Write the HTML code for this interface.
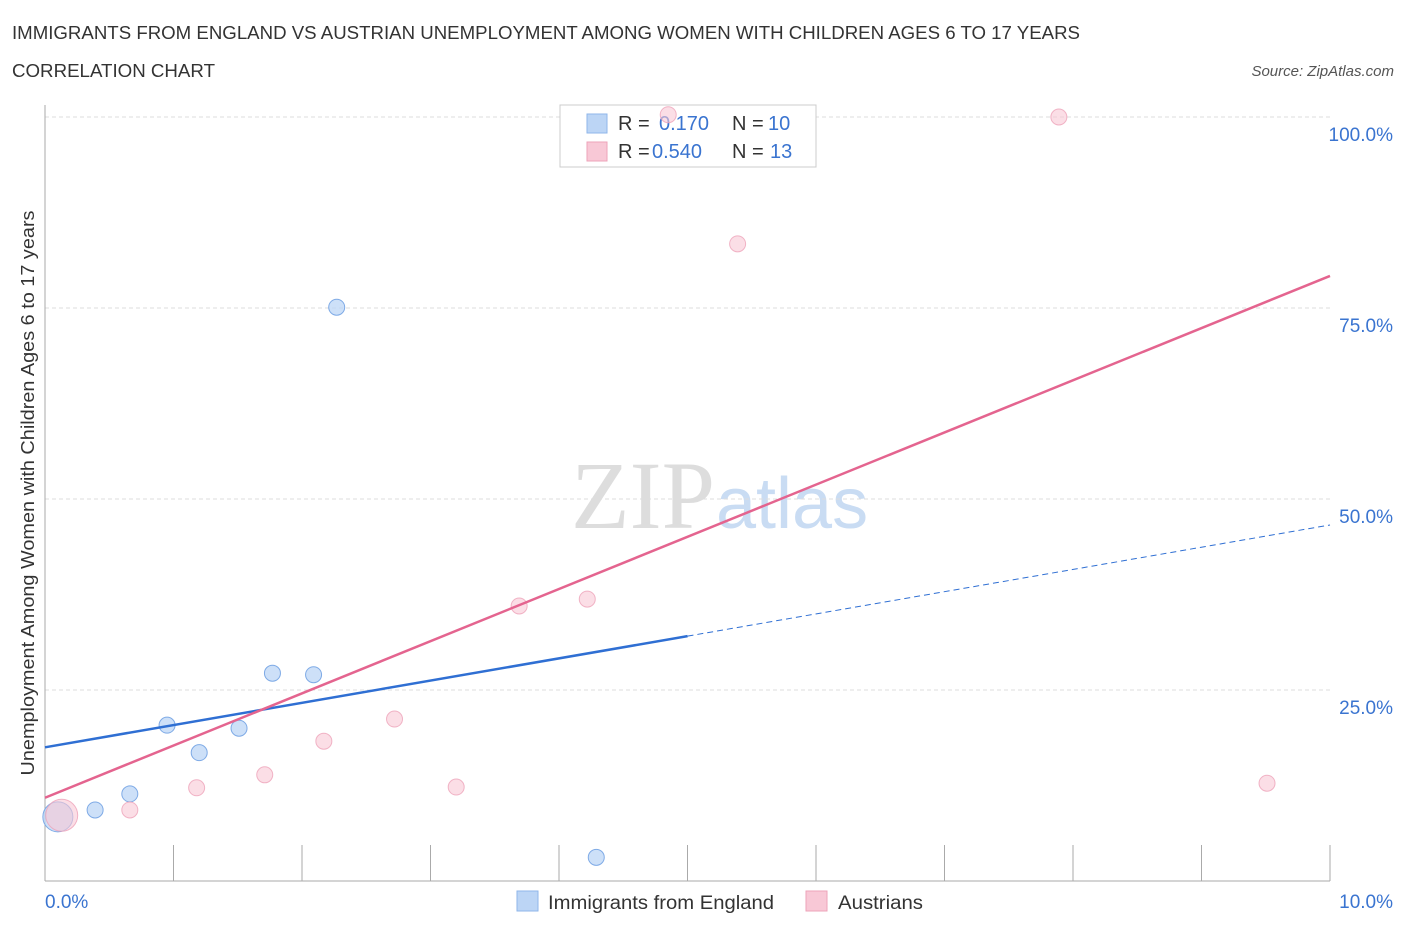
<!DOCTYPE html>
<html><head><meta charset="utf-8"><style>
body{margin:0;background:#fff;font-family:"Liberation Sans",sans-serif;}
svg text{font-family:"Liberation Sans",sans-serif;}
</style></head><body>
<svg id="c" width="1406" height="930">
<text x="12" y="39" font-size="18" fill="#333" textLength="1068" lengthAdjust="spacingAndGlyphs">IMMIGRANTS FROM ENGLAND VS AUSTRIAN UNEMPLOYMENT AMONG WOMEN WITH CHILDREN AGES 6 TO 17 YEARS</text>
<text x="12" y="77" font-size="18" fill="#333" textLength="203" lengthAdjust="spacingAndGlyphs">CORRELATION CHART</text>
<text x="1394" y="76" font-size="15" fill="#555" font-style="italic" text-anchor="end">Source: ZipAtlas.com</text>
<text x="715" y="528" font-size="96" fill="#ddd" text-anchor="end" style="font-family:'Liberation Serif',serif">ZIP</text>
<text x="716" y="528" font-size="72" fill="#c9dcf3">atlas</text>
<text transform="translate(34,493) rotate(-90)" font-size="18" fill="#333" text-anchor="middle" textLength="565" lengthAdjust="spacingAndGlyphs">Unemployment Among Women with Children Ages 6 to 17 years</text>
<g id="grid"></g>
<g>
<rect x="560" y="105" width="256" height="62" fill="#fff" stroke="#ccc"/>
<rect x="587" y="114" width="20" height="19" fill="#bcd5f5" stroke="#8fb6ea"/>
<text x="618" y="130" font-size="20" fill="#333">R = </text><text x="659" y="130" font-size="20" fill="#3a74d0">0.170</text>
<text x="732" y="130" font-size="20" fill="#333">N = </text><text x="768" y="130" font-size="20" fill="#3a74d0">10</text>
<rect x="587" y="142" width="20" height="19" fill="#f8c8d6" stroke="#eea3b9"/>
<text x="618" y="158" font-size="20" fill="#333">R = </text><text x="652" y="158" font-size="20" fill="#3a74d0">0.540</text>
<text x="732" y="158" font-size="20" fill="#333">N = </text><text x="770" y="158" font-size="20" fill="#3a74d0">13</text>
</g>
<g id="marks"></g>
<g>
<rect x="517" y="891" width="21" height="20" fill="#bcd5f5" stroke="#8fb6ea"/>
<text x="548" y="909" font-size="19" fill="#333" textLength="226" lengthAdjust="spacingAndGlyphs">Immigrants from England</text>
<rect x="806" y="891" width="21" height="20" fill="#f8c8d6" stroke="#eea3b9"/>
<text x="838" y="909" font-size="19" fill="#333" textLength="85" lengthAdjust="spacingAndGlyphs">Austrians</text>
</g>
</svg>
<script>
const blueX=[0.10,0.39,0.66,0.95,1.20,1.51,1.77,2.09,2.27,4.29];
const blueY=[8.4,9.3,11.4,20.4,16.8,20.0,27.2,27.0,75.1,3.1];
const blueR=[15,8,8,8,8,8,8,8,8,8];
const pinkX=[0.13,0.66,1.18,1.71,2.17,2.72,3.20,3.69,4.22,5.39,7.89,9.51,4.85];
const pinkY=[8.6,9.3,12.2,13.9,18.3,21.2,12.3,36.0,36.9,83.4,100,12.8,100.3];
const pinkR=[16,8,8,8,8,8,8,8,8,8,8,8,8];
const blueLine=[17.5,46.6]; const blueSolidEnd=5.0;
const pinkLine=[10.9,79.2];
const yTicks=[25,50,75,100];
const yTickLabels=["25.0%","50.0%","75.0%","100.0%"];
const xTickLabels=["0.0%","10.0%"];
const X=v=>45+v*128.5, Y=v=>881-v*7.64;
const NS="http://www.w3.org/2000/svg";
const grid=document.getElementById('grid'),marks=document.getElementById('marks');
function mk(p,tag,a){const e=document.createElementNS(NS,tag);for(const k in a)e.setAttribute(k,a[k]);p.appendChild(e);return e;}
yTicks.forEach((t,i)=>{
 let l=mk(grid,'line',{x1:45,x2:1330,y1:Y(t),y2:Y(t),stroke:'#ddd','stroke-dasharray':'4,3'});
 
 
 let tx=mk(grid,'text',{x:1393,y:Y(t)+24,'font-size':19,fill:'#3a74d0','text-anchor':'end'});tx.textContent=yTickLabels[i];
 
 
});
let ax=mk(grid,'line',{x1:45,x2:45,y1:105,y2:881,stroke:'#aaa'});


let bx=mk(grid,'line',{x1:45,x2:1330,y1:881,y2:881,stroke:'#aaa'});


for(let i=1;i<=10;i++){let t=mk(grid,'line',{x1:X(i),x2:X(i),y1:845,y2:881,stroke:'#aaa'});
 
 }
[[0,'start',45],[10,'end',1393]].forEach((a,i)=>{let t=mk(grid,'text',{x:a[2],y:908,'font-size':19,fill:'#3a74d0','text-anchor':a[1]});t.textContent=xTickLabels[i];
 
 });
const lb=v=>blueLine[0]+(blueLine[1]-blueLine[0])*v/10, lp=v=>pinkLine[0]+(pinkLine[1]-pinkLine[0])*v/10;
blueX.forEach((x,i)=>{let c=mk(marks,'circle',{cx:X(x),cy:Y(blueY[i]),r:blueR[i],fill:'#bcd5f5','fill-opacity':0.75,stroke:'#7eaae6'});
 
 });
pinkX.forEach((x,i)=>{let c=mk(marks,'circle',{cx:X(x),cy:Y(pinkY[i]),r:pinkR[i],fill:'#f8c8d6','fill-opacity':0.6,stroke:'#eea3b9','stroke-opacity':0.8});
 
 });
let b1=mk(marks,'line',{x1:X(0),y1:Y(lb(0)),x2:X(blueSolidEnd),y2:Y(lb(blueSolidEnd)),stroke:'#2f6fd3','stroke-width':2.5});


let b2=mk(marks,'line',{x1:X(blueSolidEnd),y1:Y(lb(blueSolidEnd)),x2:X(10),y2:Y(lb(10)),stroke:'#2f6fd3','stroke-width':1,'stroke-dasharray':'6,4'});


let p1=mk(marks,'line',{x1:X(0),y1:Y(lp(0)),x2:X(10),y2:Y(lp(10)),stroke:'#e4648f','stroke-width':2.5});


</script>
</body></html>
